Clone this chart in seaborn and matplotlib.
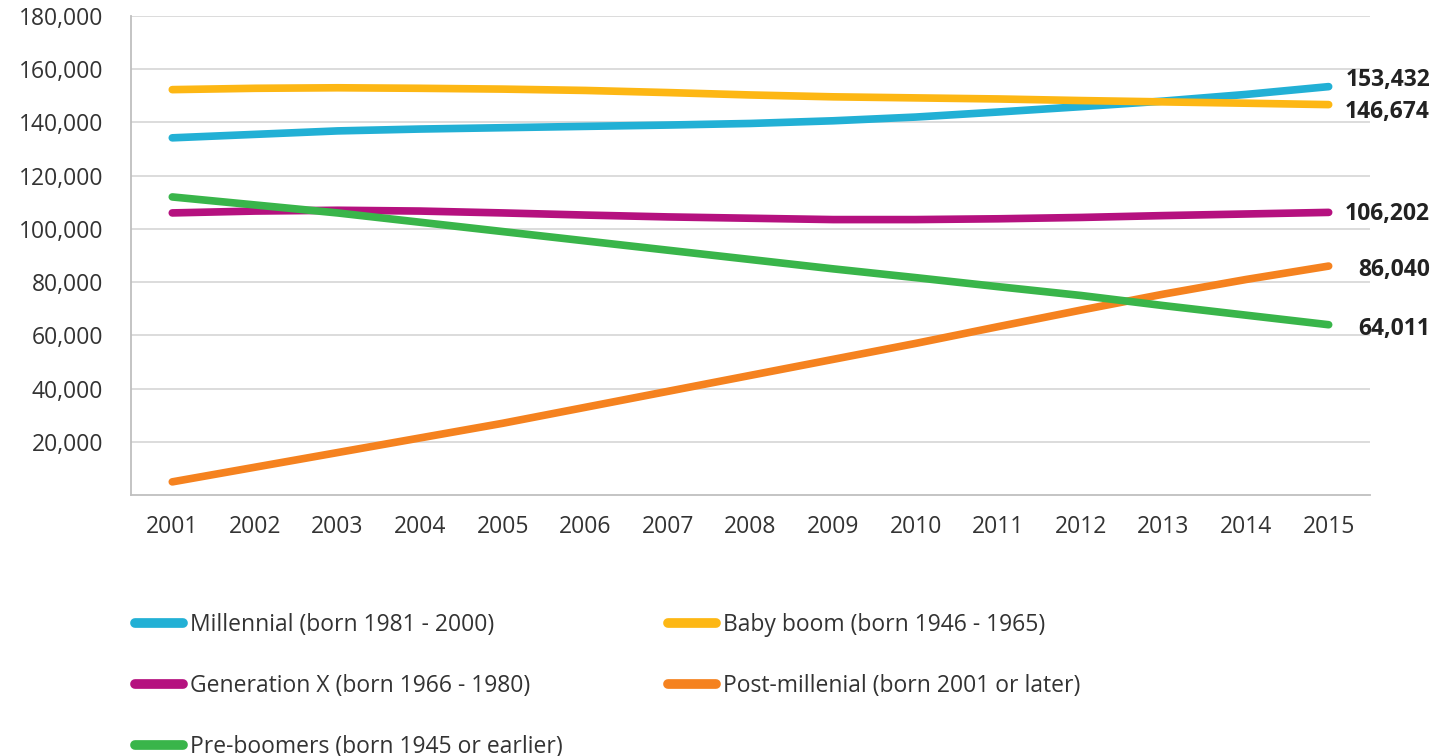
import pandas as pd
import seaborn as sns
import matplotlib.pyplot as plt
from matplotlib.lines import Line2D

years = list(range(2001, 2016))

millennial = [134200, 135500, 136800, 137500, 138000, 138500, 139000, 139600,
              140600, 142000, 143900, 145900, 148000, 150500, 153432]
baby_boom = [152300, 152800, 153000, 152800, 152500, 152000, 151200, 150300,
             149600, 149200, 148800, 148200, 147700, 147200, 146674]
gen_x = [106000, 106700, 107000, 106700, 106000, 105200, 104500, 104000,
         103500, 103500, 103800, 104300, 105000, 105600, 106202]
post_mill = [5000, 10500, 16000, 21500, 27000, 33000, 39000, 45000,
             51000, 57000, 63300, 69500, 75500, 81000, 86040]
pre_boom = [112000, 109000, 106000, 102500, 99000, 95500, 92000, 88500,
            85000, 81700, 78300, 75000, 71200, 67600, 64011]

names = ["Millennial (born 1981 - 2000)", "Baby boom (born 1946 - 1965)",
         "Generation X (born 1966 - 1980)", "Post-millenial (born 2001 or later)",
         "Pre-boomers (born 1945 or earlier)"]
series = [millennial, baby_boom, gen_x, post_mill, pre_boom]
colors = ["#22B0D5", "#FDB714", "#B5117F", "#F5821F", "#39B54A"]
end_offsets = [(0, 5), (0, -5), (0, -1), (0, -3), (0, -3)]  # label nudges, pt

df = pd.DataFrame({"year": years * len(names),
                   "value": sum(series, []),
                   "group": [n for n in names for _ in years]})

sns.set_style("white")
plt.rcParams["font.family"] = ["Open Sans", "DejaVu Sans"]
FS = 16.5

fig = plt.figure(figsize=(14.41, 7.56), dpi=100)
ax = fig.add_axes([0.0909, 0.345, 0.8598, 0.634])

sns.lineplot(data=df, x="year", y="value", hue="group", hue_order=names,
             palette=colors, linewidth=5.5, legend=False, ax=ax)
for ln in ax.get_lines():
    ln.set_solid_capstyle("round")

ax.set_ylim(0, 180000)
ax.set_xlim(2000.5, 2015.5)
ax.set_yticks(range(20000, 180001, 20000))
ax.set_yticklabels([f"{v:,}" for v in range(20000, 180001, 20000)])
ax.set_xticks([y - 0.5 for y in years] + [2015.5])
ax.set_xticklabels([])
ax.set_xticks(years, minor=True)
ax.set_xticklabels([str(y) for y in years], minor=True)
ax.tick_params(axis="x", which="major", length=9, color="#BFBFBF", width=1.3)
ax.tick_params(axis="x", which="minor", length=0, pad=14, labelsize=FS, labelcolor="#333333")
ax.tick_params(axis="y", length=9, color="#BFBFBF", width=1.3, pad=11,
               labelsize=FS, labelcolor="#333333")
ax.grid(axis="y", color="#D9D9D9", linewidth=1.3)
ax.set_axisbelow(True)
for s in ["top", "right"]:
    ax.spines[s].set_visible(False)
for s in ["left", "bottom"]:
    ax.spines[s].set_color("#BFBFBF")
    ax.spines[s].set_linewidth(1.3)
ax.set_xlabel("")
ax.set_ylabel("")

for vals, off in zip(series, end_offsets):
    ax.annotate(f"{vals[-1]:,}", xy=(years[-1], vals[-1]),
                xytext=(73 + off[0], off[1]), textcoords="offset points",
                ha="right", va="center", fontsize=FS, fontweight="bold",
                color="#222222", annotation_clip=False)

order = [0, 2, 4, 1, 3]
handles = [Line2D([0], [0], color=colors[i], linewidth=7, solid_capstyle="round")
           for i in order]
fig.legend(handles, [names[i] for i in order], loc="upper left",
           bbox_to_anchor=(0.087, 0.201), ncol=2, frameon=False, fontsize=FS,
           handlelength=2.1, handletextpad=0.3, labelspacing=1.6,
           columnspacing=4.6, labelcolor="#333333", borderaxespad=0)

fig.savefig("out.png", dpi=100)
